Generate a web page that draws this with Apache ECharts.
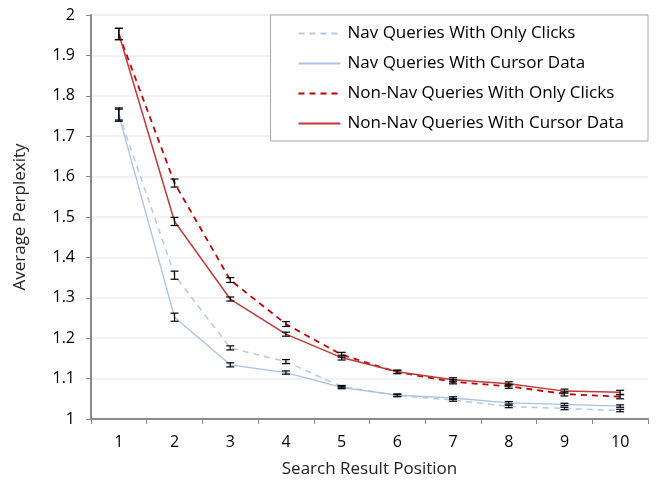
<!DOCTYPE html>
<html><head><meta charset="utf-8">
<script src="https://cdn.jsdelivr.net/npm/echarts@6/dist/echarts.min.js"></script>
<style>html,body{margin:0;padding:0;background:#fff}#c{width:656px;height:483px}</style>
</head><body><div id="c"></div>
<script>
const categories = ['1','2','3','4','5','6','7','8','9','10'];
const navOnlyClicks = [1.755, 1.356, 1.176, 1.142, 1.080, 1.058, 1.047, 1.031, 1.026, 1.021];
const navCursor = [1.752, 1.252, 1.134, 1.115, 1.078, 1.059, 1.052, 1.040, 1.036, 1.032];
const nonNavOnlyClicks = [1.953, 1.584, 1.344, 1.235, 1.159, 1.116, 1.092, 1.081, 1.062, 1.055];
const nonNavCursor = [1.953, 1.489, 1.297, 1.210, 1.152, 1.117, 1.097, 1.087, 1.069, 1.066];
const navOnlyClicksErr = [0.015, 0.010, 0.005, 0.005, 0.003, 0.003, 0.003, 0.003, 0.003, 0.003];
const navCursorErr = [0.015, 0.010, 0.005, 0.004, 0.003, 0.003, 0.003, 0.003, 0.003, 0.003];
const nonNavOnlyClicksErr = [0.014, 0.010, 0.006, 0.006, 0.006, 0.004, 0.005, 0.005, 0.005, 0.005];
const nonNavCursorErr = [0.014, 0.010, 0.005, 0.005, 0.006, 0.004, 0.005, 0.005, 0.005, 0.005];
const names = ['Nav Queries With Only Clicks','Nav Queries With Cursor Data','Non-Nav Queries With Only Clicks','Non-Nav Queries With Cursor Data'];

const FONT = 'Open Sans';
const chart = echarts.init(document.getElementById('c'), null, {renderer:'canvas'});

function errSeries(vals, errs){
  return {
    type:'custom', silent:true, z:5,
    data: vals.map((v,i)=>[i, v-errs[i], v+errs[i]]),
    renderItem: function(params, api){
      const x = api.value(0);
      const lo = api.coord([x, api.value(1)]);
      const hi = api.coord([x, api.value(2)]);
      const w = 4;
      const st = {stroke:'#000', lineWidth:1.2};
      return {type:'group', children:[
        {type:'line', shape:{x1:lo[0],y1:lo[1],x2:hi[0],y2:hi[1]}, style:st},
        {type:'line', shape:{x1:lo[0]-w,y1:lo[1],x2:lo[0]+w,y2:lo[1]}, style:st},
        {type:'line', shape:{x1:hi[0]-w,y1:hi[1],x2:hi[0]+w,y2:hi[1]}, style:st}
      ]};
    }
  };
}
function lineSeries(name, vals, color, type, width){
  return {name:name, type:'line', data:vals, symbol:'none', z:3,
    lineStyle:{color:color, type:type, width:width},
    itemStyle:{color:color}};
}

chart.setOption({
  animation:false,
  grid:{left:91, right:8, top:15, bottom:64},
  legend:{
    orient:'vertical', right:8, top:15,
    data:names,
    itemWidth:42, itemHeight:17, itemGap:13,
    padding:[10, 24, 9, 27],
    borderColor:'#a6a6a6', borderWidth:1,
    backgroundColor:'#fff',
    itemStyle:{opacity:0},
    lineStyle:{opacity:1},
    textStyle:{fontFamily:FONT, fontSize:17, color:'#000', padding:[0,0,0,2]}
  },
  xAxis:{
    type:'category', data:categories, boundaryGap:true,
    name:'Search Result Position', nameLocation:'middle', nameGap:42,
    nameTextStyle:{fontFamily:FONT, fontSize:17, color:'#222'},
    axisLine:{lineStyle:{color:'#8a8a8a', width:2}},
    axisTick:{show:true, length:5, lineStyle:{color:'#8a8a8a', width:1}},
    axisLabel:{fontFamily:FONT, fontSize:16, color:'#000', margin:15},
    splitLine:{show:false}
  },
  yAxis:{
    type:'value', min:1, max:2, interval:0.1,
    name:'Average Perplexity', nameLocation:'middle', nameGap:62, nameRotate:90,
    nameTextStyle:{fontFamily:FONT, fontSize:17, color:'#222'},
    axisLine:{show:true, lineStyle:{color:'#8a8a8a', width:2}},
    axisTick:{show:true, length:5, lineStyle:{color:'#8a8a8a', width:1}},
    axisLabel:{fontFamily:FONT, fontSize:16, color:'#000', margin:16,
      formatter: v => String(Math.round(v*10)/10)},
    splitLine:{show:true, lineStyle:{color:'#eeeeee', width:1.5}}
  },
  series:[
    lineSeries(names[0], navOnlyClicks, '#b4c9e6', [6,5], 1.5),
    lineSeries(names[1], navCursor, '#a9c2e4', 'solid', 1.3),
    lineSeries(names[2], nonNavOnlyClicks, '#c00000', [6,5], 1.8),
    lineSeries(names[3], nonNavCursor, '#c0393b', 'solid', 1.5),
    errSeries(navOnlyClicks, navOnlyClicksErr),
    errSeries(navCursor, navCursorErr),
    errSeries(nonNavOnlyClicks, nonNavOnlyClicksErr),
    errSeries(nonNavCursor, nonNavCursorErr)
  ]
});
</script></body></html>
